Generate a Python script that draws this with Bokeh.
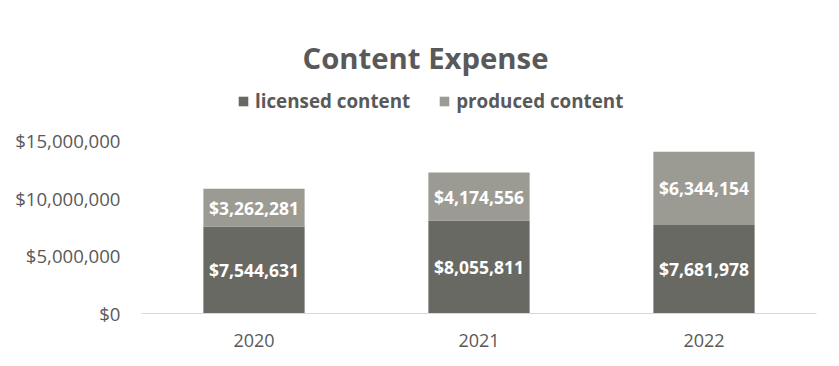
from bokeh.plotting import figure
from bokeh.models import (ColumnDataSource, FactorRange, Range1d, FixedTicker,
                          NumeralTickFormatter, LabelSet, Label, Legend, LegendItem)
from bokeh.core.properties import value
from bokeh.embed import file_html
from bokeh.resources import INLINE

years = ["2020", "2021", "2022"]
licensed = [7544631, 8055811, 7681978]
produced = [3262281, 4174556, 6344154]
y_ticks = [0, 5000000, 10000000, 15000000]

DARK = "#696963"
LIGHT = "#9b9b94"
TEXT = "#595959"
FONT = "Open Sans"

W, H = 831, 358
ML, MR, MT, MB = 141, 15, 0, 45
frame_h = H - MT - MB
px_per_15m = 173.0
y_end = 15000000 * frame_h / px_per_15m

src = ColumnDataSource(dict(
    years=years,
    licensed=licensed,
    produced=produced,
    lic_mid=[l / 2 for l in licensed],
    pro_mid=[l + p / 2 for l, p in zip(licensed, produced)],
    lic_txt=["${:,}".format(v) for v in licensed],
    pro_txt=["${:,}".format(v) for v in produced],
))

p = figure(x_range=FactorRange(*years), y_range=Range1d(0, y_end),
           width=W, height=H, output_backend="svg", toolbar_location=None,
           min_border_left=ML, min_border_right=MR, min_border_top=MT,
           min_border_bottom=MB)
p.outline_line_color = None
p.xgrid.grid_line_color = None
p.ygrid.grid_line_color = None
p.background_fill_color = "white"
p.border_fill_color = "white"

rs = p.vbar_stack(["licensed", "produced"], x="years", width=0.45,
                  color=[DARK, LIGHT], line_color=None, source=src)

# axes
p.yaxis.ticker = FixedTicker(ticks=y_ticks)
p.yaxis.formatter = NumeralTickFormatter(format="$0,0")
p.yaxis.axis_line_color = None
p.yaxis.major_tick_line_color = None
p.yaxis.minor_tick_line_color = None
p.yaxis.major_label_text_font = FONT
p.yaxis.major_label_text_font_size = "18.6px"
p.yaxis.major_label_text_color = TEXT
p.yaxis.major_label_standoff = 15

p.xaxis.axis_line_color = "#d9d9d9"
p.xaxis.axis_line_width = 1
p.xaxis.major_tick_line_color = None
p.xaxis.minor_tick_line_color = None
p.xaxis.major_label_text_font = FONT
p.xaxis.major_label_text_font_size = "18px"
p.xaxis.major_label_text_color = TEXT
p.xaxis.major_label_standoff = 14

# bar labels
for ycol, tcol in [("lic_mid", "lic_txt"), ("pro_mid", "pro_txt")]:
    p.add_layout(LabelSet(x="years", y=ycol, text=tcol, source=src,
                          text_align="center", text_baseline="middle",
                          text_color="white", text_font=value(FONT),
                          text_font_style="bold", text_font_size="17.5px"))

# title
p.add_layout(Label(x=284, y=256, x_units="screen", y_units="screen",
                   text="Content Expense", text_align="center",
                   text_baseline="middle", text_font=FONT,
                   text_font_style="bold", text_font_size="29.3px",
                   text_color=TEXT))

# legend
legend = Legend(items=[LegendItem(label="licensed content", renderers=[rs[0]]),
                       LegendItem(label="produced content", renderers=[rs[1]])],
                orientation="horizontal", location=(96, 199),
                glyph_width=12, glyph_height=12, label_standoff=6, spacing=28,
                padding=0, margin=0, border_line_color=None,
                background_fill_alpha=0, label_text_font=FONT,
                label_text_font_style="bold", label_text_font_size="18.8px",
                label_text_color=TEXT, label_height=20)
p.add_layout(legend)

open("out.html", "w").write(file_html(p, INLINE))
